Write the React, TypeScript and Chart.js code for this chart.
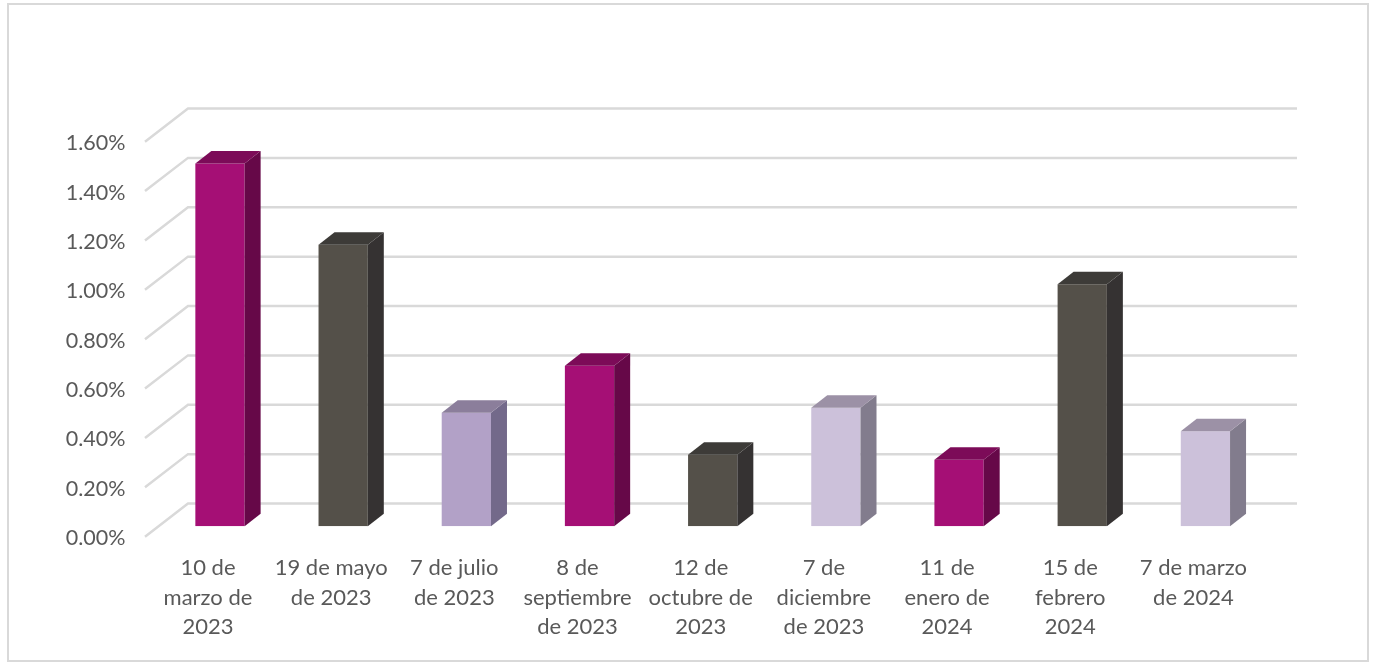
import React, { useEffect, useRef } from "react";
import { Chart, registerables } from "chart.js";

Chart.register(...registerables);

const categories: string[][] = [
  ["10 de", "marzo de", "2023"],
  ["19 de mayo", "de 2023"],
  ["7 de julio", "de 2023"],
  ["8 de", "septiembre", "de 2023"],
  ["12 de", "octubre de", "2023"],
  ["7 de", "diciembre", "de 2023"],
  ["11 de", "enero de", "2024"],
  ["15 de", "febrero", "2024"],
  ["7 de marzo", "de 2024"],
];
const values = [1.47, 1.14, 0.46, 0.65, 0.29, 0.48, 0.27, 0.98, 0.385];
const frontColors = ["#A50F75", "#545049", "#B2A1C7", "#A50F75", "#545049", "#CCC1DA", "#A50F75", "#545049", "#CCC1DA"];
const sideColors = ["#660848", "#353232", "#73698A", "#660848", "#353232", "#827C8D", "#660848", "#353232", "#827C8D"];
const topColors = ["#7C0B58", "#3D3B38", "#8B7E9B", "#7C0B58", "#3D3B38", "#9C91A6", "#7C0B58", "#3D3B38", "#9C91A6"];

const TEXT = "#595959";
const GRID = "#D9D9D9";
const FONT = "Lato, Carlito, sans-serif";
const DX = 16, DY = 12.5;

const threeD = {
  id: "threeD",
  beforeDatasetsDraw(chart: any) {
    const { ctx, chartArea, scales } = chart;
    const y = scales.y;
    ctx.save();
    ctx.strokeStyle = GRID;
    ctx.lineWidth = 2.5;
    y.ticks.forEach((t: any) => {
      const p = y.getPixelForValue(t.value);
      ctx.beginPath();
      ctx.moveTo(chartArea.left - 13.4, p + 10.4);
      ctx.lineTo(chartArea.left + 29.6, p - 22.8);
      ctx.lineTo(chartArea.right + 30, p - 22.8);
      ctx.stroke();
    });
    ctx.restore();
  },
  afterDatasetsDraw(chart: any) {
    const { ctx } = chart;
    const meta = chart.getDatasetMeta(0);
    ctx.save();
    meta.data.forEach((bar: any, i: number) => {
      const r = bar.x + bar.width / 2;
      const l = bar.x - bar.width / 2;
      const t = bar.y;
      const b = bar.base;
      ctx.fillStyle = sideColors[i];
      ctx.beginPath();
      ctx.moveTo(r, t);
      ctx.lineTo(r + DX, t - DY);
      ctx.lineTo(r + DX, b - DY);
      ctx.lineTo(r, b);
      ctx.closePath();
      ctx.fill();
      ctx.fillStyle = topColors[i];
      ctx.beginPath();
      ctx.moveTo(l, t);
      ctx.lineTo(l + DX, t - DY);
      ctx.lineTo(r + DX, t - DY);
      ctx.lineTo(r, t);
      ctx.closePath();
      ctx.fill();
    });
    ctx.restore();
  },
};

export default function App() {
  const ref = useRef<HTMLCanvasElement>(null);
  useEffect(() => {
    const chart = new Chart(ref.current!, {
      type: "bar",
      data: {
        labels: categories,
        datasets: [
          {
            data: values,
            backgroundColor: frontColors,
            borderWidth: 0,
            barPercentage: 0.4,
            categoryPercentage: 1,
          },
        ],
      },
      plugins: [threeD],
      options: {
        animation: false,
        responsive: false,
        layout: { padding: { top: 131.3, right: 109, left: 0, bottom: 0 } },
        plugins: { legend: { display: false }, tooltip: { enabled: false }, title: { display: false } },
        scales: {
          x: {
            grid: { display: false },
            border: { display: false },
            afterFit: (s: any) => { s.height = 135.7; },
            ticks: {
              autoSkip: false,
              maxRotation: 0,
              minRotation: 0,
              padding: 19,
              labelOffset: -12,
              color: TEXT,
              font: { family: FONT, size: 22, lineHeight: 1.34 },
            },
          },
          y: {
            min: 0,
            max: 1.6,
            grid: { display: false },
            border: { display: false },
            afterFit: (s: any) => { s.width = 158.4; },
            ticks: {
              stepSize: 0.2,
              padding: 25,
              labelOffset: 12,
              color: TEXT,
              font: { family: FONT, size: 21.5 },
              callback: (v: any) => Number(v).toFixed(2) + "%",
            },
          },
        },
      },
    });
    return () => chart.destroy();
  }, []);
  return (
    <div style={{ position: "absolute", left: 0, top: 0, width: 1376, height: 662, background: "#fff" }}>
      <div
        style={{
          position: "absolute",
          left: 7,
          top: 3,
          width: 1362,
          height: 659,
          boxSizing: "border-box",
          border: "2px solid #D9D9D9",
        }}
      />
      <canvas ref={ref} width={1376} height={662} style={{ position: "absolute", left: 0, top: 0, display: "block" }} />
    </div>
  );
}
